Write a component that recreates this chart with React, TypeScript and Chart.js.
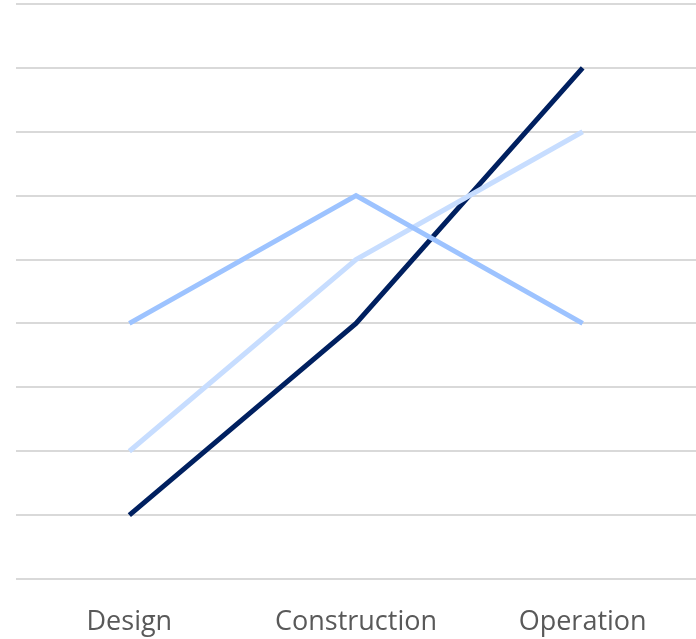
import React, { useEffect, useRef } from "react";
import { Chart, registerables } from "chart.js";

Chart.register(...registerables);

const categories = ["Design", "Construction", "Operation"];
const seriesDark = [1, 4, 8];
const seriesMedium = [4, 6, 4];
const seriesLight = [2, 5, 7];
const yMin = 0;
const yMax = 9;

export default function App() {
  const ref = useRef<HTMLCanvasElement | null>(null);

  useEffect(() => {
    document.body.style.margin = "0";
    const ctx = ref.current!.getContext("2d")!;
    const chart = new Chart(ctx, {
      type: "line",
      data: {
        labels: categories,
        datasets: [
          { label: "A", data: seriesMedium, borderColor: "#9DC3FF", borderWidth: 5, pointRadius: 0, tension: 0, fill: false },
          { label: "B", data: seriesLight, borderColor: "#C7DDFF", borderWidth: 5, pointRadius: 0, tension: 0, fill: false },
          { label: "C", data: seriesDark, borderColor: "#002060", borderWidth: 5, pointRadius: 0, tension: 0, fill: false },
        ],
      },
      options: {
        animation: false,
        responsive: false,
        maintainAspectRatio: false,
        layout: { padding: { left: 16, top: 4, right: 0, bottom: 0 } },
        plugins: { legend: { display: false }, tooltip: { enabled: false } },
        scales: {
          x: {
            offset: true,
            grid: { display: false, drawTicks: false },
            border: { display: false },
            ticks: {
              color: "#595959",
              font: { family: "'Open Sans', sans-serif", size: 27 },
              padding: 27,
              maxRotation: 0,
            },
            afterFit: (s: any) => { s.height = 60; },
          },
          y: {
            min: yMin,
            max: yMax,
            ticks: { display: false, stepSize: 1 },
            grid: { color: "#D9D9D9", lineWidth: 2, drawTicks: false },
            border: { display: false },
            afterFit: (s: any) => { s.width = 0; },
          },
        },
      },
    });
    return () => chart.destroy();
  }, []);

  return (
    <div style={{ width: 696, height: 639 }}>
      <canvas ref={ref} width={696} height={639} style={{ display: "block" }} />
    </div>
  );
}
